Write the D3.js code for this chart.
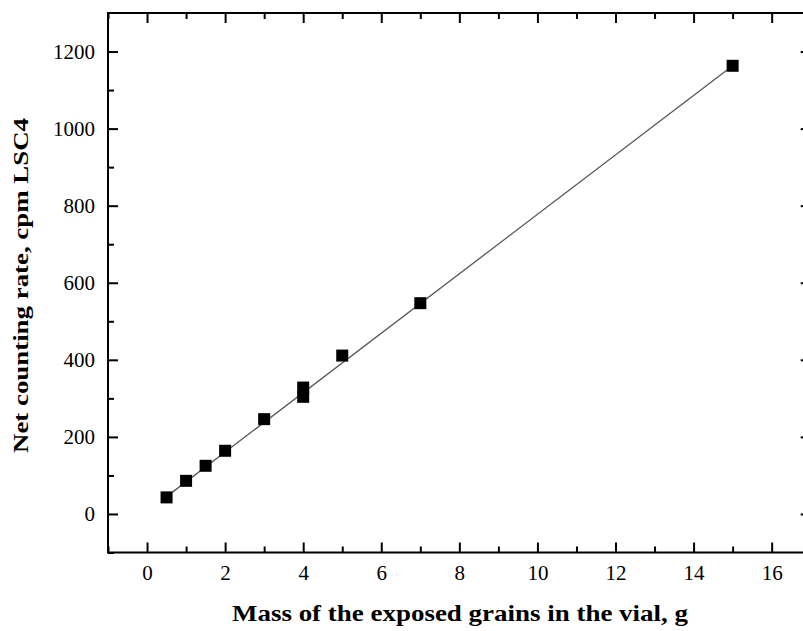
<!DOCTYPE html>
<html>
<head>
<meta charset="utf-8">
<script src="https://cdn.jsdelivr.net/npm/d3@7"></script>
<style>
  body { margin: 0; background: #fff; }
  text { font-family: "Liberation Serif", "Times New Roman", serif; fill: #000; }
  .tick line { stroke: #000; stroke-width: 2; }
  .tick text { font-size: 21px; }
  .axisTitle { font-weight: bold; }
</style>
</head>
<body>
<div id="chart"></div>
<script>
// Data

// Mass of exposed grains (g)
var massG = [0.5, 1, 1.5, 2, 3, 4, 4, 5, 7, 15];
// Net counting rate (cpm)
var rateCpm = [43, 86, 125, 164, 246, 304, 328, 411, 547, 1163];

// Fitted line end points
var fitX = [0.5, 15];
var fitY = [45, 1163];

// Tick values
var xMajor = [0, 2, 4, 6, 8, 10, 12, 14, 16];
var xMinor = [-1, 1, 3, 5, 7, 9, 11, 13, 15];
var yMajor = [0, 200, 400, 600, 800, 1000, 1200];
var yMinor = [-100, 100, 300, 500, 700, 900, 1100];

// Layout
var width = 803;
var height = 631;
var plotLeft = 108;
var plotTop = 13;
var plotBottom = 552.5;
var plotRight = 810.7;

var svg = d3
  .select("#chart")
  .append("svg")
  .attr("width", width)
  .attr("height", height);

var xScale = d3.scaleLinear().domain([-1, 17]).range([plotLeft, plotRight]);
var yScale = d3.scaleLinear().domain([-100, 1300]).range([plotBottom, plotTop]);

// Axes, ticks pointing inward
function addAxis(axisFn, scale, values, size, labels, transform) {
  var ax = axisFn(scale).tickValues(values).tickSize(-size).tickPadding(13);
  if (labels) ax.tickFormat(d3.format("d"));
  else ax.tickFormat("");
  var g = svg.append("g").attr("transform", transform).call(ax);
  g.select(".domain").remove();
  return g;
}

// Bottom
addAxis(d3.axisBottom, xScale, xMajor, 10, true, "translate(0," + plotBottom + ")");
addAxis(d3.axisBottom, xScale, xMinor, 6, false, "translate(0," + plotBottom + ")");
// Top
addAxis(d3.axisTop, xScale, xMajor, 10, false, "translate(0," + plotTop + ")");
addAxis(d3.axisTop, xScale, xMinor, 6, false, "translate(0," + plotTop + ")");
// Left
addAxis(d3.axisLeft, yScale, yMajor, 10, true, "translate(" + plotLeft + ",0)");
addAxis(d3.axisLeft, yScale, yMinor, 6, false, "translate(" + plotLeft + ",0)");
// Right
addAxis(d3.axisRight, yScale, yMajor, 10, false, "translate(" + plotRight + ",0)");
addAxis(d3.axisRight, yScale, yMinor, 6, false, "translate(" + plotRight + ",0)");

// Frame
svg
  .append("rect")
  .attr("x", plotLeft)
  .attr("y", plotTop)
  .attr("width", plotRight - plotLeft)
  .attr("height", plotBottom - plotTop)
  .attr("fill", "none")
  .attr("stroke", "#000")
  .attr("stroke-width", 2);

// Fit line
var line = d3
  .line()
  .x(function(d) { return xScale(d[0]); })
  .y(function(d) { return yScale(d[1]); });

svg
  .append("path")
  .datum(d3.zip(fitX, fitY))
  .attr("d", line)
  .attr("fill", "none")
  .attr("stroke", "#555")
  .attr("stroke-width", 1.3);

// Points
var markSize = 12;
svg
  .selectAll("rect.pt")
  .data(d3.zip(massG, rateCpm))
  .enter()
  .append("rect")
  .attr("class", "pt")
  .attr("x", function(d) { return xScale(d[0]) - markSize / 2; })
  .attr("y", function(d) { return yScale(d[1]) - markSize / 2; })
  .attr("width", markSize)
  .attr("height", markSize)
  .attr("fill", "#000");

// Axis titles
svg
  .append("text")
  .attr("class", "axisTitle")
  .attr("x", 460)
  .attr("y", 621)
  .attr("font-size", 24)
  .attr("text-anchor", "middle")
  .attr("textLength", 456)
  .attr("lengthAdjust", "spacingAndGlyphs")
  .text("Mass of the exposed grains in the vial, g");

svg
  .append("text")
  .attr("class", "axisTitle")
  .attr("transform", "translate(28,285.5)rotate(-90)")
  .attr("font-size", 22)
  .attr("text-anchor", "middle")
  .attr("textLength", 335)
  .attr("lengthAdjust", "spacingAndGlyphs")
  .text("Net counting rate, cpm LSC4");
</script>
</body>
</html>
